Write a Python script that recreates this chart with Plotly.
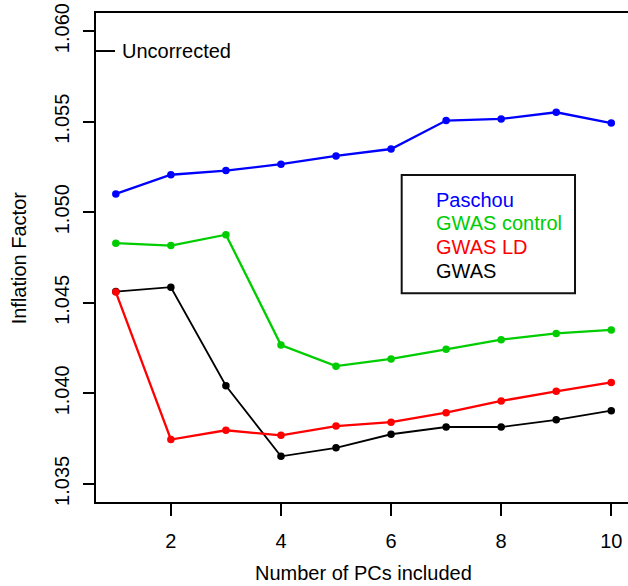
import plotly.graph_objects as go

pcs = [1, 2, 3, 4, 5, 6, 7, 8, 9, 10]
paschou = [1.05101, 1.05207, 1.05230, 1.05265, 1.05311, 1.05349, 1.05506, 1.05515, 1.05552, 1.05492]
gwas_control = [1.04829, 1.04816, 1.04876, 1.04267, 1.04150, 1.04190, 1.04243, 1.04296, 1.04331, 1.04350]
gwas_ld = [1.04559, 1.03745, 1.03796, 1.03768, 1.03819, 1.03841, 1.03893, 1.03958, 1.04011, 1.04060]
gwas = [1.04562, 1.04586, 1.04042, 1.03652, 1.03699, 1.03774, 1.03814, 1.03814, 1.03854, 1.03904]
uncorrected = 1.0589

series_names = ["Paschou", "GWAS control", "GWAS LD", "GWAS"]
series_values = [paschou, gwas_control, gwas_ld, gwas]
series_colors = ["#0000FF", "#00CD00", "#FF0000", "#000000"]
series_widths = [2.3, 2.3, 2.3, 1.8]
draw_order = [0, 1, 3, 2]

y_ticks = [1.035, 1.040, 1.045, 1.050, 1.055, 1.060]
x_ticks = [2, 4, 6, 8, 10]

FONT = "Liberation Sans, Arial, sans-serif"

fig = go.Figure()
for i in draw_order:
    fig.add_trace(go.Scatter(
        x=pcs, y=series_values[i], mode="lines+markers", name=series_names[i],
        line=dict(color=series_colors[i], width=series_widths[i]),
        marker=dict(color=series_colors[i], size=7.5),
        showlegend=False,
    ))

legend_rows_y = [0.6176, 0.5699, 0.5208, 0.4730]
annotations = []
for name, col, yy in zip(series_names, series_colors, legend_rows_y):
    annotations.append(dict(
        xref="paper", yref="paper", x=0.6359, y=yy,
        text=name, showarrow=False, xanchor="left", yanchor="middle",
        font=dict(family=FONT, size=20, color=col),
    ))

annotations.append(dict(
    xref="paper", yref="y", x=0.0451, y=uncorrected,
    text="Uncorrected", showarrow=False, xanchor="left", yanchor="middle",
    font=dict(family=FONT, size=20, color="#000000"),
))
annotations.append(dict(
    xref="paper", yref="paper", x=-0.145, y=0.5,
    text="Inflation Factor", showarrow=False, textangle=-90,
    xanchor="center", yanchor="middle",
    font=dict(family=FONT, size=20, color="#000000"),
))
annotations.append(dict(
    xref="paper", yref="paper", x=(363.5 - 96) / 532, y=-(572.7 - 502) / 489,
    text="Number of PCs included", showarrow=False,
    xanchor="center", yanchor="middle",
    font=dict(family=FONT, size=20, color="#000000"),
))

shapes = [
    dict(type="rect", xref="paper", yref="paper", x0=0.5746, x1=0.9004, y0=0.4268, y1=0.6687,
         line=dict(color="#111111", width=2), fillcolor="rgba(0,0,0,0)"),
    dict(type="line", xref="paper", yref="y", x0=0, x1=0.0357, y0=uncorrected, y1=uncorrected,
         line=dict(color="#000000", width=2)),
]

fig.update_layout(
    width=628, height=586,
    margin=dict(l=96, r=0, t=13, b=84),
    paper_bgcolor="white", plot_bgcolor="white",
    font=dict(family=FONT, size=20, color="#000000"),
    annotations=annotations, shapes=shapes,
    xaxis=dict(
        range=[0.64, 10.304], tickvals=x_ticks, ticktext=[str(v) for v in x_ticks],
        showgrid=False, zeroline=False,
        showline=True, linecolor="#000000", linewidth=2, mirror=True,
        ticks="outside", ticklen=12, tickwidth=2, tickcolor="#000000",
        tickfont=dict(family=FONT, size=20), ticklabelstandoff=8,
    ),
    yaxis=dict(
        range=[1.034, 1.061], tickvals=y_ticks, ticktext=["%.3f" % v for v in y_ticks],
        showgrid=False, zeroline=False,
        showline=True, linecolor="#000000", linewidth=2,
        ticks="outside", ticklen=11, tickwidth=2, tickcolor="#000000",
        tickangle=-90, tickfont=dict(family=FONT, size=20), ticklabelstandoff=6,
    ),
)

fig.write_html("out.html")
